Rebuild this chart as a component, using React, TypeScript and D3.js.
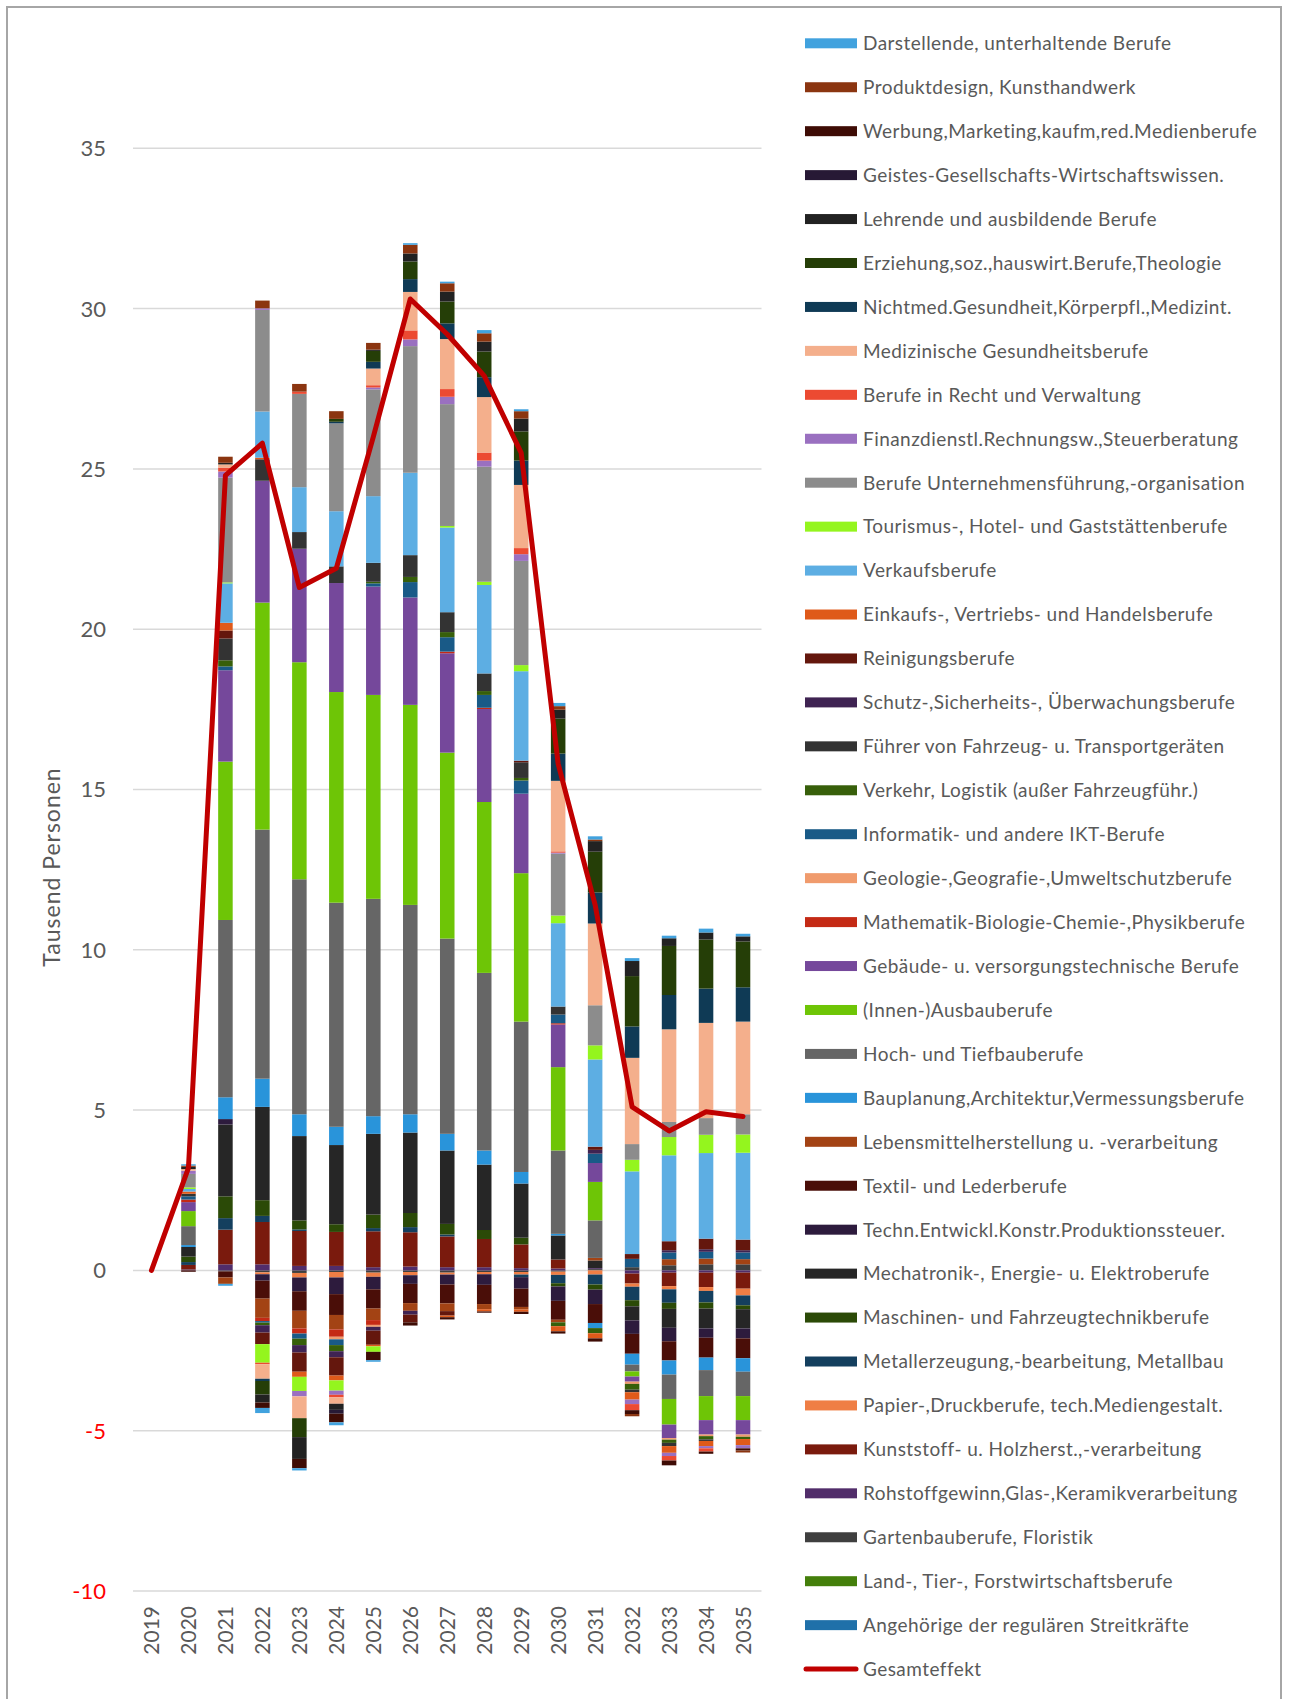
import * as d3 from 'd3';

const years = ['2019', '2020', '2021', '2022', '2023', '2024', '2025', '2026', '2027', '2028', '2029', '2030', '2031', '2032', '2033', '2034', '2035'];

// legend order (top to bottom); stacking runs the other way round
const seriesNames = [
  'Darstellende, unterhaltende Berufe',
  'Produktdesign, Kunsthandwerk',
  'Werbung,Marketing,kaufm,red.Medienberufe',
  'Geistes-Gesellschafts-Wirtschaftswissen.',
  'Lehrende und ausbildende Berufe',
  'Erziehung,soz.,hauswirt.Berufe,Theologie',
  'Nichtmed.Gesundheit,Körperpfl.,Medizint.',
  'Medizinische Gesundheitsberufe',
  'Berufe in Recht und Verwaltung',
  'Finanzdienstl.Rechnungsw.,Steuerberatung',
  'Berufe Unternehmensführung,-organisation',
  'Tourismus-, Hotel- und Gaststättenberufe',
  'Verkaufsberufe',
  'Einkaufs-, Vertriebs- und Handelsberufe',
  'Reinigungsberufe',
  'Schutz-,Sicherheits-, Überwachungsberufe',
  'Führer von Fahrzeug- u. Transportgeräten',
  'Verkehr, Logistik (außer Fahrzeugführ.)',
  'Informatik- und andere IKT-Berufe',
  'Geologie-,Geografie-,Umweltschutzberufe',
  'Mathematik-Biologie-Chemie-,Physikberufe',
  'Gebäude- u. versorgungstechnische Berufe',
  '(Innen-)Ausbauberufe',
  'Hoch- und Tiefbauberufe',
  'Bauplanung,Architektur,Vermessungsberufe',
  'Lebensmittelherstellung u. -verarbeitung',
  'Textil- und Lederberufe',
  'Techn.Entwickl.Konstr.Produktionssteuer.',
  'Mechatronik-, Energie- u. Elektroberufe',
  'Maschinen- und Fahrzeugtechnikberufe',
  'Metallerzeugung,-bearbeitung, Metallbau',
  'Papier-,Druckberufe, tech.Mediengestalt.',
  'Kunststoff- u. Holzherst.,-verarbeitung',
  'Rohstoffgewinn,Glas-,Keramikverarbeitung',
  'Gartenbauberufe, Floristik',
  'Land-, Tier-, Forstwirtschaftsberufe',
  'Angehörige der regulären Streitkräfte',
];

const seriesColors = [
  '#41A2DE', '#8B3510', '#3E0C05', '#271935', '#222222', '#253E07', '#0F3A55', '#F4AF8C',
  '#EC4A32', '#9A70C0', '#8C8C8C', '#94F51E', '#5DAEE3', '#DF5A1A', '#64170D', '#3F2352',
  '#333333', '#375F0A', '#195A87', '#F09B6D', '#C42A15', '#75489B', '#6EC506', '#666666',
  '#2994DA', '#A34314', '#4A0E08', '#2D1B3D', '#262626', '#2B4A07', '#143F5E', '#EF7E45',
  '#7A1A0D', '#512D6A', '#3F3F3F', '#447F0B', '#1F70A9',
];

// Tausend Personen, 2019..2035, same order as seriesNames
const seriesValues = [
  [0, 0.04, -0.06, -0.16, -0.07, -0.09, -0.05, 0.05, 0.05, 0.1, 0.06, 0.1, 0.1, 0.09, 0.08, 0.12, 0.08],
  [0, 0.04, 0.19, 0.24, 0.24, 0.24, 0.21, 0.27, 0.26, 0.26, 0.23, 0.11, 0.05, -0.07, 0, 0, -0.06],
  [0, -0.02, 0, -0.17, -0.29, -0.27, -0.26, -0.1, -0.07, -0.04, -0.07, -0.07, -0.1, -0.12, -0.15, -0.07, -0.07],
  [0, 0, 0, 0, 0, -0.12, 0, 0, 0, 0, 0, 0, 0, 0, 0, 0, 0],
  [0, 0.07, 0.05, -0.25, -0.68, -0.19, 0.04, 0.25, 0.31, 0.31, 0.4, 0.28, 0.33, 0.47, 0.24, 0.22, 0.16],
  [0, 0, 0, -0.42, -0.59, 0.09, 0.34, 0.55, 0.68, 0.8, 0.91, 1.09, 1.27, 1.57, 1.53, 1.53, 1.43],
  [0, 0, 0, -0.07, 0, 0.05, 0.21, 0.4, 0.49, 0.62, 0.76, 0.85, 0.97, 0.98, 1.07, 1.07, 1.07],
  [0, 0.05, 0.1, -0.45, -0.68, -0.2, 0.52, 1.2, 1.56, 1.73, 1.97, 2.2, 2.55, 2.69, 2.89, 2.97, 2.89],
  [0, 0, 0.12, -0.05, 0.07, -0.08, 0.07, 0.28, 0.24, 0.25, 0.19, 0.04, 0, -0.19, -0.14, -0.1, 0],
  [0, 0.1, 0.19, 0.05, -0.17, -0.13, 0.06, 0.21, 0.23, 0.19, 0.21, 0.03, 0, -0.14, -0.1, -0.07, -0.1],
  [0, 0.42, 3.27, 3.17, 2.91, 2.74, 3.33, 3.95, 3.8, 3.59, 3.25, 1.93, 1.25, 0.49, 0.47, 0.52, 0.63],
  [0, 0.05, 0.03, -0.58, -0.44, -0.32, -0.17, 0, 0.05, 0.1, 0.19, 0.24, 0.44, 0.36, 0.57, 0.57, 0.57],
  [0, 0.08, 1.23, 1.44, 1.4, 1.72, 2.08, 2.57, 2.64, 2.76, 2.79, 2.6, 2.72, 2.58, 2.68, 2.67, 2.71],
  [0, 0.07, 0.24, 0.05, -0.16, -0.15, -0.05, 0, -0.05, -0.07, -0.07, -0.16, -0.16, -0.23, -0.21, -0.16, -0.19],
  [0, 0, 0.25, -0.36, -0.6, -0.57, -0.44, -0.24, -0.14, 0, 0.05, 0, 0.1, 0.15, 0.28, 0.33, 0.33],
  [0, 0, 0, -0.23, -0.23, -0.19, -0.12, -0.12, 0, 0, 0, 0, 0.12, 0, 0.07, 0.08, 0.07],
  [0, 0.08, 0.68, 0.67, 0.52, 0.52, 0.59, 0.68, 0.62, 0.55, 0.49, 0.25, 0, -0.08, -0.1, -0.05, 0],
  [0, 0, 0.19, -0.08, -0.2, -0.19, 0.05, 0.16, 0.16, 0.12, 0.08, -0.12, -0.16, -0.18, -0.1, -0.1, -0.07],
  [0, 0.1, 0.12, -0.05, -0.16, -0.18, 0.1, 0.48, 0.45, 0.4, 0.41, 0.27, 0.29, 0.26, 0.21, 0.21, 0.21],
  [0, 0, 0, 0, 0, -0.08, -0.06, 0, 0, 0, 0, 0, 0, -0.07, -0.05, -0.05, -0.07],
  [0, 0.08, 0, -0.1, -0.16, -0.23, -0.15, 0, 0.05, 0.04, 0, 0.04, 0, 0, 0, 0, 0],
  [0, 0.28, 2.85, 3.8, 3.54, 3.4, 3.38, 3.35, 3.1, 2.9, 2.48, 1.33, 0.59, -0.16, -0.42, -0.45, -0.45],
  [0, 0.47, 4.94, 7.08, 6.77, 6.57, 6.36, 6.24, 5.8, 5.33, 4.63, 2.6, 1.2, -0.16, -0.8, -0.75, -0.75],
  [0, 0.59, 5.53, 7.77, 7.33, 6.99, 6.78, 6.53, 6.09, 5.54, 4.69, 2.6, 1.17, -0.21, -0.76, -0.81, -0.76],
  [0, 0.06, 0.68, 0.88, 0.68, 0.57, 0.55, 0.57, 0.52, 0.44, 0.36, 0.05, -0.16, -0.34, -0.44, -0.39, -0.42],
  [0, 0, -0.2, -0.6, -0.55, -0.45, -0.36, -0.24, -0.24, -0.16, -0.08, -0.08, 0.08, 0, 0.19, 0.18, 0.16],
  [0, -0.03, -0.19, -0.56, -0.61, -0.65, -0.6, -0.6, -0.59, -0.6, -0.57, -0.59, -0.59, -0.62, -0.6, -0.62, -0.62],
  [0, 0, 0.17, -0.2, -0.43, -0.52, -0.39, -0.27, -0.31, -0.33, -0.36, -0.45, -0.45, -0.42, -0.42, -0.29, -0.31],
  [0, 0.3, 2.24, 2.91, 2.63, 2.47, 2.52, 2.51, 2.29, 2.04, 1.69, 0.75, 0.24, -0.44, -0.59, -0.62, -0.6],
  [0, 0.17, 0.68, 0.49, 0.28, 0.24, 0.42, 0.44, 0.33, 0.28, 0.21, -0.1, -0.16, -0.19, -0.19, -0.19, -0.12],
  [0, 0.09, 0.36, 0.19, 0.05, 0, 0.1, 0.16, 0.06, 0, -0.08, -0.26, -0.31, -0.42, -0.42, -0.36, -0.31],
  [0, 0, 0, -0.06, -0.14, -0.17, -0.13, -0.1, -0.06, -0.07, -0.08, -0.1, -0.13, -0.1, -0.1, -0.12, -0.21],
  [0, 0.14, 1.08, 1.32, 1.09, 1.06, 1.12, 1.07, 0.96, 0.88, 0.74, 0.28, 0, -0.31, -0.42, -0.45, -0.5],
  [0, 0.03, 0.19, 0.19, 0.14, 0.14, 0.1, 0.12, 0.1, 0.1, 0.07, 0.06, 0.03, -0.1, -0.07, -0.07, -0.07],
  [0, 0, -0.03, -0.06, -0.08, -0.05, -0.07, -0.05, -0.07, -0.05, -0.05, -0.04, 0.04, 0.1, 0.16, 0.19, 0.19],
  [0, 0, 0, 0, 0, 0, 0, 0, 0, 0, 0, 0, 0, 0, 0, 0, 0],
  [0, 0, 0, 0, 0, 0, 0, 0, 0, 0, 0, 0, 0, 0, 0, 0, 0],
];

const gesamteffekt = [0, 3.2, 24.8, 25.8, 21.3, 21.9, 26.0, 30.3, 29.2, 27.9, 25.5, 15.8, 11.4, 5.1, 4.35, 4.95, 4.8];

const yTicks = [-10, -5, 0, 5, 10, 15, 20, 25, 30, 35];

const FONT = "Lato, 'Open Sans', sans-serif";
const TEXT = '#595959';

export default function App() {
  const W = 1289;
  const H = 1699;

  const x = d3.scaleBand<string>().domain(years).range([133, 761.5]).paddingInner(0.607).paddingOuter(0.3035);
  const y = d3.scaleLinear().domain([-10, 35]).range([1591, 148.3]);

  const rows = years.map((yr, j) => {
    const r: Record<string, number | string> = { year: yr };
    seriesValues.forEach((vals, i) => { r['s' + i] = vals[j]; });
    return r;
  });
  const keys = seriesNames.map((_, i) => 's' + i).reverse();
  const stacked = d3.stack<any>().keys(keys).offset(d3.stackOffsetDiverging)(rows as any);

  const cx = (yr: string) => (x(yr) ?? 0) + x.bandwidth() / 2;
  const linePath = d3.line<number>()
    .x((_, j) => cx(years[j]))
    .y((d) => y(d))(gesamteffekt) ?? '';

  const legendTop = 43.3;
  const legendStep = 43.94;

  return (
    <div style={{ position: 'absolute', left: 0, top: 0, width: W, height: H, background: '#fff' }}>
      <svg width={W} height={H} style={{ display: 'block' }} fontFamily={FONT}>
        <rect x={0} y={0} width={W} height={H} fill="#fff" />
        <rect x={7} y={7} width={1274} height={H + 10} fill="none" stroke="#a6a6a6" strokeWidth={2} />

        {yTicks.map((t) => (
          <g key={t}>
            <line x1={133} x2={761.5} y1={y(t)} y2={y(t)} stroke="#d9d9d9" strokeWidth={1.5} />
            <text x={106} y={y(t)} dy="0.36em" textAnchor="end" fontSize={22} fill={t < 0 ? '#ff0000' : TEXT}>
              {t}
            </text>
          </g>
        ))}

        <text
          transform={`translate(52,867) rotate(-90)`}
          textAnchor="middle"
          dy="0.36em"
          fontSize={23}
          letterSpacing={1}
          fill={TEXT}
        >
          Tausend Personen
        </text>

        {stacked.map((layer) => {
          const idx = Number(layer.key.slice(1));
          return (
            <g key={layer.key} fill={seriesColors[idx]}>
              {layer.map((d, j) => {
                const h = Math.abs(y(d[0]) - y(d[1]));
                if (h < 0.01) return null;
                return (
                  <rect
                    key={j}
                    x={x(years[j])}
                    y={Math.min(y(d[0]), y(d[1]))}
                    width={x.bandwidth()}
                    height={h}
                  />
                );
              })}
            </g>
          );
        })}

        <path d={linePath} fill="none" stroke="#c00000" strokeWidth={5} strokeLinejoin="round" strokeLinecap="round" />

        {years.map((yr) => (
          <text
            key={yr}
            transform={`translate(${cx(yr)},1606) rotate(-90)`}
            textAnchor="end"
            dy="0.36em"
            fontSize={21}
            fill={TEXT}
          >
            {yr}
          </text>
        ))}

        {seriesNames.map((name, i) => {
          const cy = legendTop + i * legendStep;
          return (
            <g key={name}>
              <rect x={805} y={cy - 5} width={52} height={10} fill={seriesColors[i]} />
              <text x={863} y={cy} dy="0.36em" fontSize={19} letterSpacing={0.45} fill={TEXT}>
                {name}
              </text>
            </g>
          );
        })}
        <g>
          <line
            x1={806}
            x2={856}
            y1={legendTop + seriesNames.length * legendStep}
            y2={legendTop + seriesNames.length * legendStep}
            stroke="#c00000"
            strokeWidth={5}
            strokeLinecap="round"
          />
          <text
            x={863}
            y={legendTop + seriesNames.length * legendStep}
            dy="0.36em"
            fontSize={19}
            letterSpacing={0.45}
            fill={TEXT}
          >
            Gesamteffekt
          </text>
        </g>
      </svg>
    </div>
  );
}
